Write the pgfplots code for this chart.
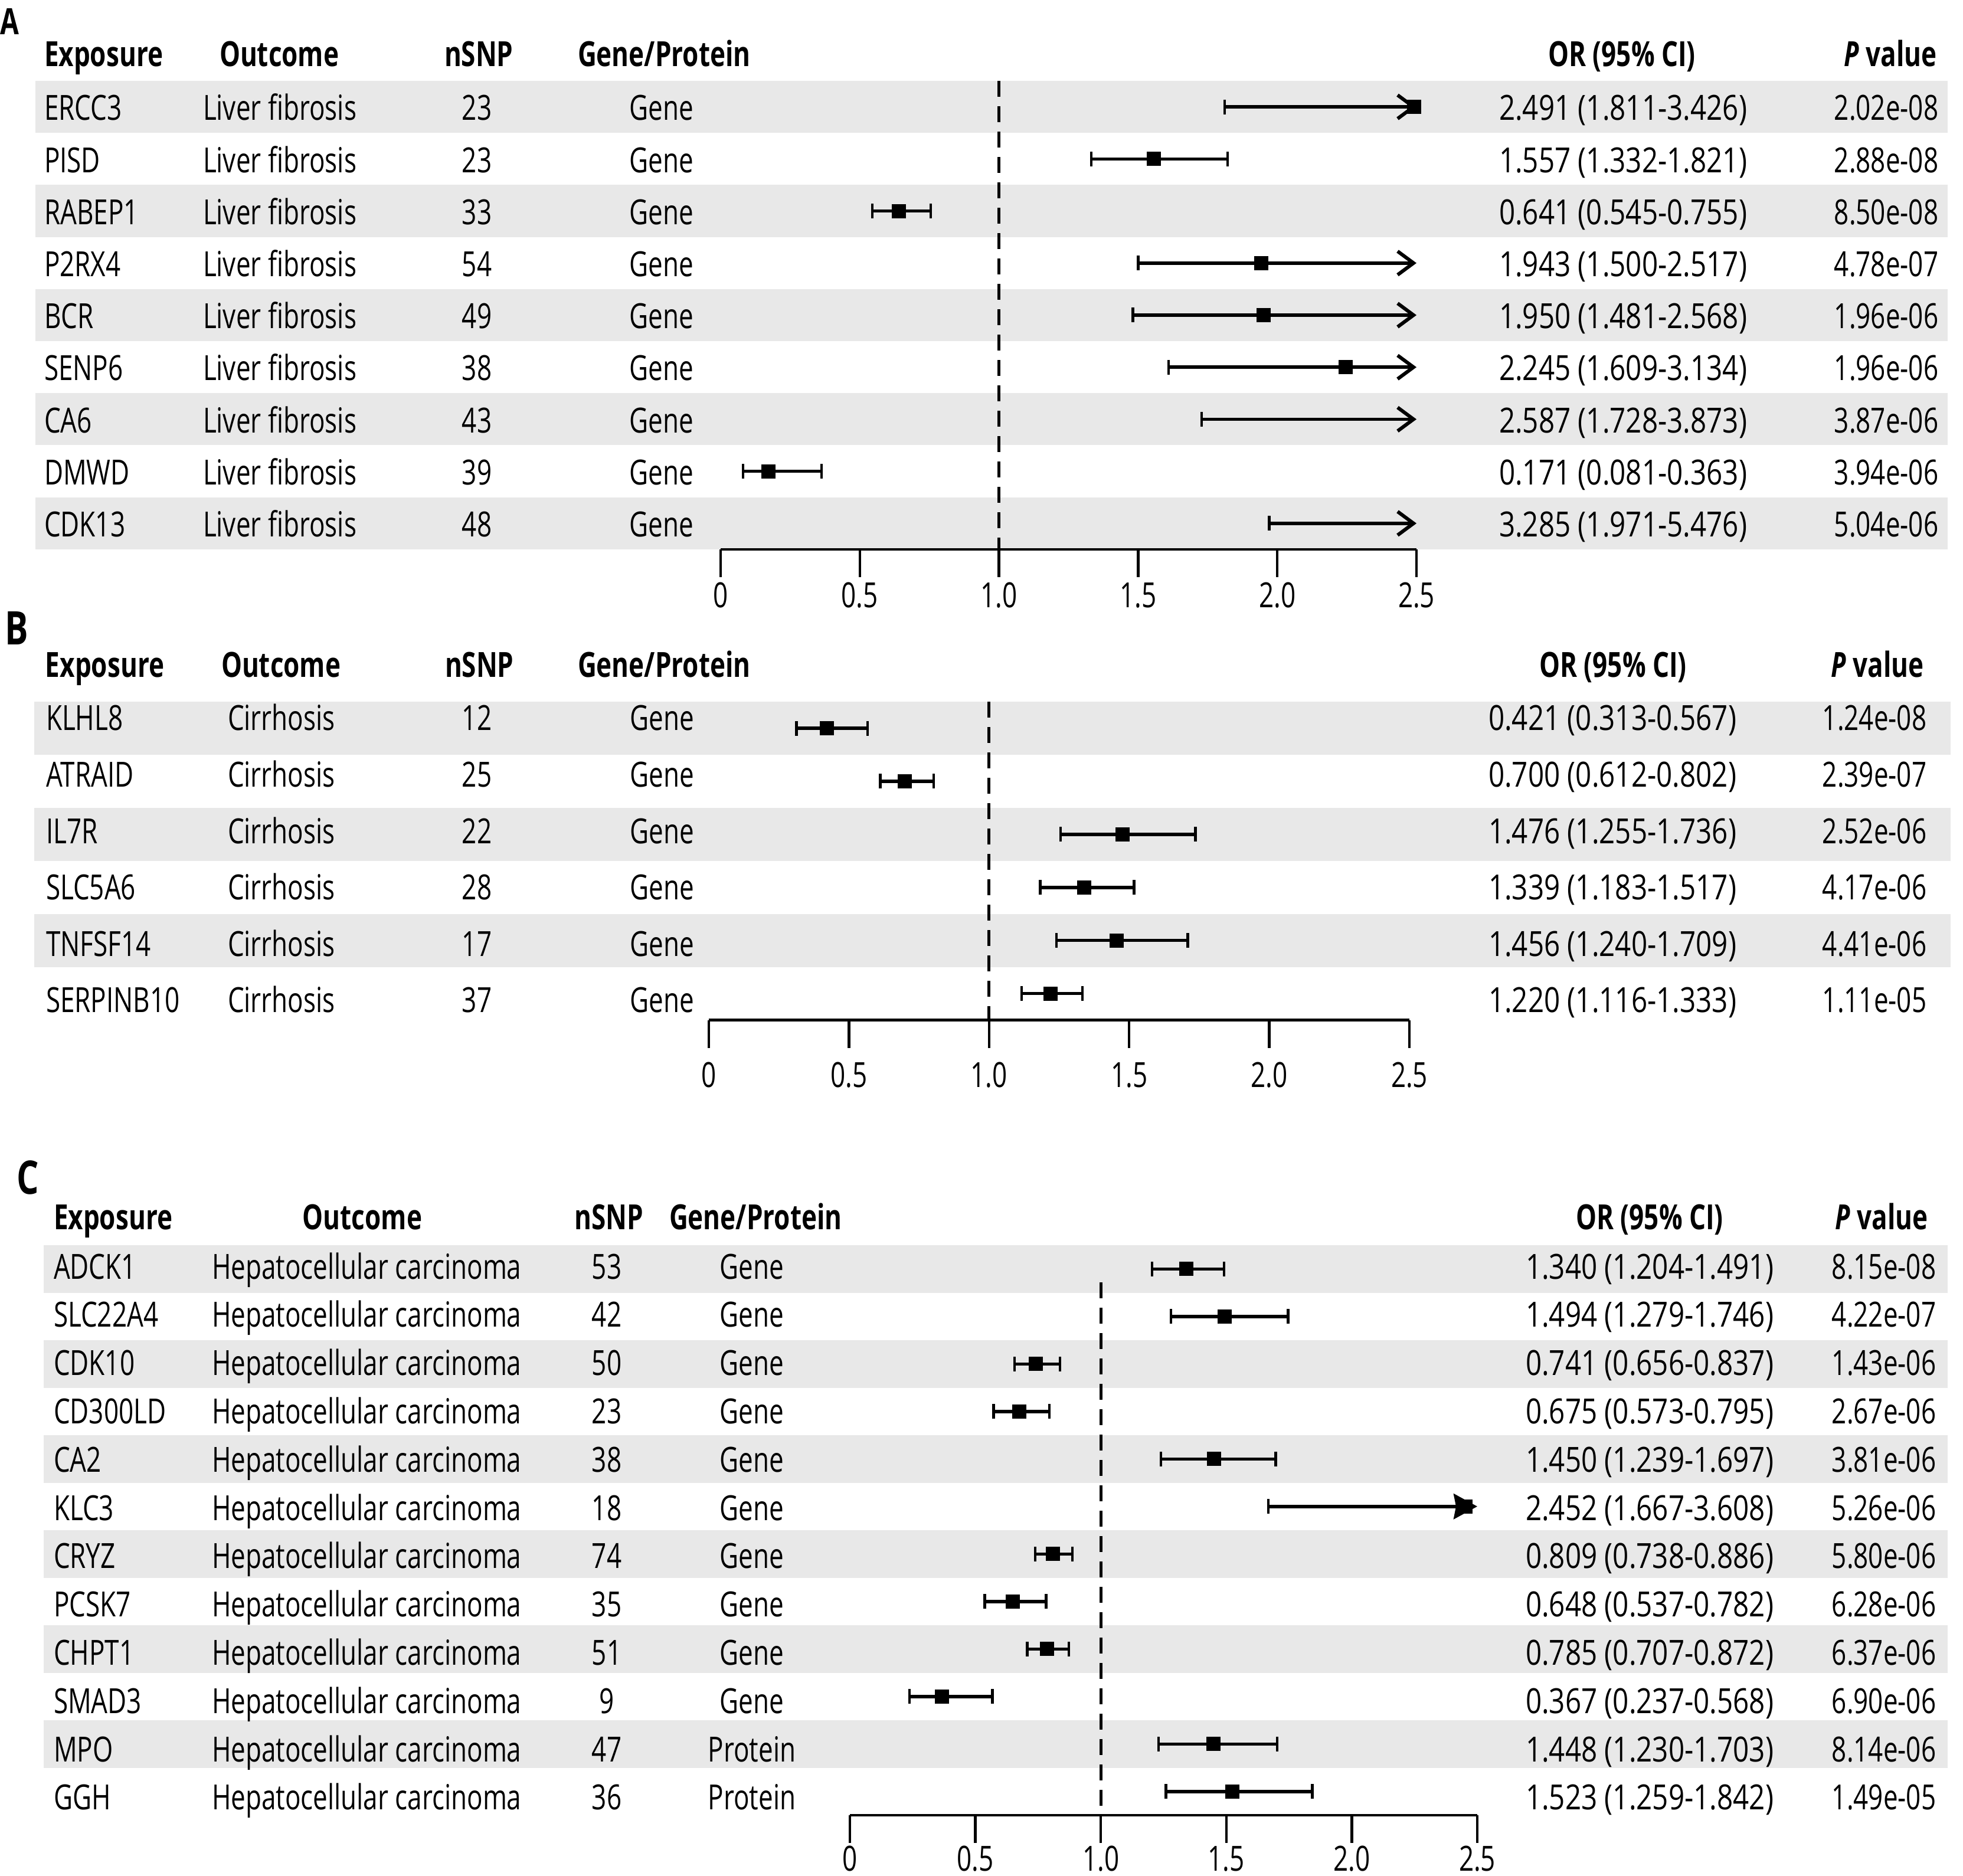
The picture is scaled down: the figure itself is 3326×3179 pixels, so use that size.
\documentclass[border=0pt]{standalone}
\usepackage{fontspec}
\setmainfont{Open Sans}[FakeStretch=0.75]
\newfontfamily\numf{Open Sans}[FakeStretch=0.81]
\usepackage{pgfplots}
\pgfplotsset{compat=1.18}
\usepackage{pgfplotstable}
\usetikzlibrary{arrows.meta}
\definecolor{band}{RGB}{232,232,232}
\newcommand\tf{\fontsize{11.74}{14}\selectfont}

% panel A: rows with the whole CI inside 0..2.5
\pgfplotstableread{
row or lo hi
2 1.557 1.332 1.821
3 0.641 0.545 0.755
8 0.171 0.081 0.363
}\tabA
% panel A: CI runs past 2.5
\pgfplotstableread{
row or lo hi
1 2.491 1.811 3.426
4 1.943 1.500 2.517
5 1.950 1.481 2.568
6 2.245 1.609 3.134
7 2.587 1.728 3.873
9 3.285 1.971 5.476
}\tabAo
\pgfplotstableread{
row or lo hi
1 0.421 0.313 0.567
2 0.700 0.612 0.802
3 1.476 1.255 1.736
4 1.339 1.183 1.517
5 1.456 1.240 1.709
6 1.220 1.116 1.333
}\tabB
\pgfplotstableread{
row or lo hi
1 1.340 1.204 1.491
2 1.494 1.279 1.746
3 0.741 0.656 0.837
4 0.675 0.573 0.795
5 1.450 1.239 1.697
7 0.809 0.738 0.886
8 0.648 0.537 0.782
9 0.785 0.707 0.872
10 0.367 0.237 0.568
11 1.448 1.230 1.703
12 1.523 1.259 1.842
}\tabC
\pgfplotstableread{
row or lo hi
6 2.452 1.667 3.608
}\tabCo

\pgfplotsset{
  fp/.style={scale only axis, anchor=south west, clip=false,
    xmin=0, xmax=2.5, axis x line*=bottom, axis y line=none, ytick=\empty,
    xtick={0,0.5,1,1.5,2,2.5}, xticklabels={0,0.5,1.0,1.5,2.0,2.5},
    tick align=outside, major tick length=9.4pt,
    axis line style={line width=0.9pt, black},
    tick style={line width=0.9pt, black},
    ticklabel style={font=\tf, inner sep=0pt},
    xticklabel style={anchor=base}},
  ci/.style={only marks, mark=square*, mark size=2.2pt, black,
    error bars/.cd, x dir=both, x explicit, error mark=|,
    error bar style={line width=1.1pt, black},
    error mark options={line width=0.9pt, mark size=2.5pt, black}},
  ref/.style={black, line width=1pt, dash pattern=on 5.4pt off 3.2pt},
  arr/.style={black, line width=1.1pt, -{Straight Barb[length=5.4pt, width=8pt, line width=1.2pt]}},
  cap/.style={only marks, mark=|, mark size=2.5pt, black, mark options={line width=0.9pt}},
}

\begin{document}
\begin{tikzpicture}[x=0.2pt, y=-0.2pt,
    t/.style={inner sep=0pt, font=\tf},
    n/.style={inner sep=0pt, font=\tf\numf},
    hb/.style={inner sep=0pt, font=\tf\bfseries}]
\useasboundingbox (0,0) rectangle (3326,3179);

% shaded rows
\foreach \k in {0,2,4,6,8}
  \fill[band] (60,{137+\k*88.2}) rectangle (3300,{137+(\k+1)*88.2});
\foreach \k in {0,2,4}
  \fill[band] (58,{1189+\k*89.9}) rectangle (3305,{1189+(\k+1)*89.9});
\foreach \k in {0,2,4,6,8,10}
  \fill[band] (74,{2110+\k*80.5}) rectangle (3300,{2110+(\k+1)*80.5});

\coordinate (pA) at (1221,931);
\coordinate (pB) at (1201,1728.6);
\coordinate (pC) at (1440,3076);

% ---------- A
\begin{axis}[fp, at={(pA)}, width=235.8pt, height=158.8pt, ymin=-9, ymax=0,
  xticklabel style={yshift=-10.4pt}]
\addplot[ref] coordinates {(1,0) (1,-9)};
\addplot[ci] table[x=or, y expr={0.5-\thisrow{row}},
  x error plus expr={\thisrow{hi}-\thisrow{or}},
  x error minus expr={\thisrow{or}-\thisrow{lo}}] {\tabA};
\addplot[cap] table[x=lo, y expr={0.5-\thisrow{row}}] {\tabAo};
\addplot[arr] coordinates {(1.811,-0.5) (2.5,-0.5)};
\addplot[arr] coordinates {(1.500,-3.5) (2.5,-3.5)};
\addplot[arr] coordinates {(1.481,-4.5) (2.5,-4.5)};
\addplot[arr] coordinates {(1.609,-5.5) (2.5,-5.5)};
\addplot[arr] coordinates {(1.728,-6.5) (2.5,-6.5)};
\addplot[arr] coordinates {(1.971,-8.5) (2.5,-8.5)};
\addplot[only marks, mark=square*, mark size=2.2pt, black, restrict x to domain=0:2.5]
  table[x=or, y expr={0.5-\thisrow{row}}] {\tabAo};
\end{axis}

% ---------- B
\begin{axis}[fp, at={(pB)}, width=237.4pt, height=107.9pt, ymin=-6, ymax=0,
  xticklabel style={yshift=-13.4pt}]
\addplot[ref] coordinates {(1,0) (1,-6)};
\addplot[ci] table[x=or, y expr={0.5-\thisrow{row}},
  x error plus expr={\thisrow{hi}-\thisrow{or}},
  x error minus expr={\thisrow{or}-\thisrow{lo}}] {\tabB};
\end{axis}

% ---------- C
\begin{axis}[fp, at={(pC)}, width=212.6pt, height=193.2pt, ymin=-12, ymax=0,
  xticklabel style={yshift=-9.4pt}]
\addplot[ref] coordinates {(1,-0.78) (1,-12)};
\addplot[ci] table[x=or, y expr={0.5-\thisrow{row}},
  x error plus expr={\thisrow{hi}-\thisrow{or}},
  x error minus expr={\thisrow{or}-\thisrow{lo}}] {\tabC};
\addplot[cap] table[x=lo, y expr={0.5-\thisrow{row}}] {\tabCo};
\addplot[only marks, mark=square*, mark size=2.2pt, black]
  table[x=or, y expr={0.5-\thisrow{row}}] {\tabCo};
\addplot[black, line width=1.1pt, -{Stealth[length=8pt, width=8.6pt, inset=0.8pt]}]
  coordinates {(1.667,-5.5) (2.5,-5.5)};
\end{axis}

% ---------- text A
\node[inner sep=0pt, font=\fontsize{12.3}{14}\selectfont\bfseries, anchor=base west] at (0,59) {A};
\node[hb, anchor=base west] at (74,113) {Exposure};
\node[hb, anchor=base west] at (371,113) {Outcome};
\node[hb, anchor=base west] at (752,113) {nSNP};
\node[hb, anchor=base west] at (978,113) {Gene/Protein};
\node[hb, anchor=base] at (2748,113) {OR (95\% CI)};
\node[hb, anchor=base] at (3203,113) {{\itshape P} value};
\foreach \ex/\ou/\ns/\gp/\ci/\pv [count=\k from 0] in {
  ERCC3/Liver fibrosis/23/Gene/{2.491 (1.811-3.426)}/2.02e-08,
  PISD/Liver fibrosis/23/Gene/{1.557 (1.332-1.821)}/2.88e-08,
  RABEP1/Liver fibrosis/33/Gene/{0.641 (0.545-0.755)}/8.50e-08,
  P2RX4/Liver fibrosis/54/Gene/{1.943 (1.500-2.517)}/4.78e-07,
  BCR/Liver fibrosis/49/Gene/{1.950 (1.481-2.568)}/1.96e-06,
  SENP6/Liver fibrosis/38/Gene/{2.245 (1.609-3.134)}/1.96e-06,
  CA6/Liver fibrosis/43/Gene/{2.587 (1.728-3.873)}/3.87e-06,
  DMWD/Liver fibrosis/39/Gene/{0.171 (0.081-0.363)}/3.94e-06,
  CDK13/Liver fibrosis/48/Gene/{3.285 (1.971-5.476)}/5.04e-06}{
  \pgfmathsetmacro\yb{204+\k*88.2}
  \node[t, anchor=base west] at (74,\yb) {\ex};
  \node[t, anchor=base west] at (343,\yb) {\ou};
  \node[t, anchor=base] at (808,\yb) {\ns};
  \node[t, anchor=base] at (1121,\yb) {\gp};
  \node[n, anchor=base] at (2750,\yb) {\ci};
  \node[t, anchor=base] at (3196,\yb) {\pv};
}

% ---------- text B
\node[inner sep=0pt, font=\fontsize{15.7}{18}\selectfont\bfseries, anchor=base west] at (7,1093) {B};
\node[hb, anchor=base west] at (76,1148) {Exposure};
\node[hb, anchor=base west] at (374,1148) {Outcome};
\node[hb, anchor=base west] at (753,1148) {nSNP};
\node[hb, anchor=base west] at (978,1148) {Gene/Protein};
\node[hb, anchor=base] at (2733,1148) {OR (95\% CI)};
\node[hb, anchor=base] at (3181,1148) {{\itshape P} value};
\foreach \ex/\ou/\ns/\gp/\ci/\pv [count=\k from 0] in {
  KLHL8/Cirrhosis/12/Gene/{0.421 (0.313-0.567)}/1.24e-08,
  ATRAID/Cirrhosis/25/Gene/{0.700 (0.612-0.802)}/2.39e-07,
  IL7R/Cirrhosis/22/Gene/{1.476 (1.255-1.736)}/2.52e-06,
  SLC5A6/Cirrhosis/28/Gene/{1.339 (1.183-1.517)}/4.17e-06,
  TNFSF14/Cirrhosis/17/Gene/{1.456 (1.240-1.709)}/4.41e-06,
  SERPINB10/Cirrhosis/37/Gene/{1.220 (1.116-1.333)}/1.11e-05}{
  \pgfmathsetmacro\yb{1238+\k*95.5}
  \node[t, anchor=base west] at (77,\yb) {\ex};
  \node[t, anchor=base west] at (385,\yb) {\ou};
  \node[t, anchor=base] at (808,\yb) {\ns};
  \node[t, anchor=base] at (1122,\yb) {\gp};
  \node[n, anchor=base] at (2732,\yb) {\ci};
  \node[t, anchor=base] at (3176,\yb) {\pv};
}

% ---------- text C
\node[inner sep=0pt, font=\fontsize{15.7}{18}\selectfont\bfseries, anchor=base west] at (27,2023) {C};
\node[hb, anchor=base west] at (90,2083) {Exposure};
\node[hb, anchor=base] at (614,2083) {Outcome};
\node[hb, anchor=base] at (1032,2083) {nSNP};
\node[hb, anchor=base west] at (1133,2083) {Gene/Protein};
\node[hb, anchor=base] at (2795,2083) {OR (95\% CI)};
\node[hb, anchor=base] at (3188,2083) {{\itshape P} value};
\foreach \ex/\ns/\gp/\ci/\pv [count=\k from 0] in {
  ADCK1/53/Gene/{1.340 (1.204-1.491)}/8.15e-08,
  SLC22A4/42/Gene/{1.494 (1.279-1.746)}/4.22e-07,
  CDK10/50/Gene/{0.741 (0.656-0.837)}/1.43e-06,
  CD300LD/23/Gene/{0.675 (0.573-0.795)}/2.67e-06,
  CA2/38/Gene/{1.450 (1.239-1.697)}/3.81e-06,
  KLC3/18/Gene/{2.452 (1.667-3.608)}/5.26e-06,
  CRYZ/74/Gene/{0.809 (0.738-0.886)}/5.80e-06,
  PCSK7/35/Gene/{0.648 (0.537-0.782)}/6.28e-06,
  CHPT1/51/Gene/{0.785 (0.707-0.872)}/6.37e-06,
  SMAD3/9/Gene/{0.367 (0.237-0.568)}/6.90e-06,
  MPO/47/Protein/{1.448 (1.230-1.703)}/8.14e-06,
  GGH/36/Protein/{1.523 (1.259-1.842)}/1.49e-05}{
  \pgfmathsetmacro\yb{2167+\k*81.8}
  \node[t, anchor=base west] at (90,\yb) {\ex};
  \node[t, anchor=base west] at (358,\yb) {Hepatocellular carcinoma};
  \node[t, anchor=base] at (1028,\yb) {\ns};
  \node[t, anchor=base] at (1274,\yb) {\gp};
  \node[n, anchor=base] at (2795,\yb) {\ci};
  \node[t, anchor=base] at (3192,\yb) {\pv};
}
\end{tikzpicture}
\end{document}
